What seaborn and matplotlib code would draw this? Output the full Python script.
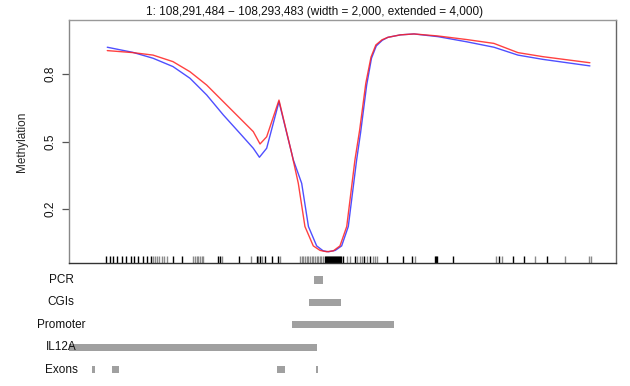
import matplotlib
matplotlib.use("Agg")
import matplotlib.pyplot as plt
import seaborn as sns
import pandas as pd

# ---------------- data (bp offsets from extended start 108,290,484) ----------------
red_pos = [2, 215, 381, 546, 687, 825, 963, 1101, 1211, 1267, 1322, 1424, 1529, 1584,
           1639, 1708, 1764, 1819, 1874, 1929, 1985, 2053, 2092, 2143, 2186, 2226, 2277,
           2326, 2430, 2542, 2741, 2980, 3204, 3403, 3610, 3999]
red_meth = [0.904, 0.895, 0.884, 0.855, 0.810, 0.751, 0.677, 0.603, 0.544, 0.489, 0.521,
            0.684, 0.448, 0.314, 0.122, 0.036, 0.016, 0.010, 0.014, 0.036, 0.122, 0.418,
            0.551, 0.759, 0.875, 0.929, 0.952, 0.963, 0.974, 0.978, 0.969, 0.953, 0.936,
            0.895, 0.877, 0.850]

blue_pos = [2, 215, 381, 546, 687, 825, 963, 1101, 1211, 1262, 1322, 1424, 1543, 1612,
            1668, 1736, 1790, 1835, 1890, 1943, 1998, 2067, 2100, 2150, 2190, 2230, 2280,
            2326, 2430, 2542, 2741, 2980, 3204, 3403, 3610, 3999]
blue_meth = [0.919, 0.896, 0.870, 0.833, 0.781, 0.707, 0.618, 0.536, 0.470, 0.430, 0.470,
             0.677, 0.418, 0.314, 0.122, 0.036, 0.014, 0.010, 0.016, 0.036, 0.122, 0.418,
             0.540, 0.750, 0.870, 0.925, 0.950, 0.963, 0.974, 0.978, 0.966, 0.943, 0.919,
             0.884, 0.865, 0.836]

rug_dark = [-8, 25, 50, 83, 124, 157, 199, 224, 257, 298, 331, 364, 546, 621, 919, 936,
            1093, 1242, 1267, 1308, 1366, 1416, 1805, 1813, 1822, 1830, 1838, 1846, 1855,
            1863, 1871, 1880, 1888, 1896, 1904, 1913, 1921, 1929, 1938, 1954, 2053, 2128,
            2178, 2318, 2451, 2525, 2716, 2724, 2732, 2865, 3246, 3362, 3453, 3643]
rug_light = [381, 397, 414, 431, 455, 472, 497, 712, 729, 745, 753, 770, 787, 795, 952,
             1192, 1250, 1283, 1432, 1598, 1615, 1627, 1639, 1656, 1668, 1681, 1697, 1706,
             1722, 1735, 1747, 1764, 1772, 1788, 1987, 2012, 2070, 2095, 2111, 2153, 2202,
             2219, 2236, 2550, 3221, 3271, 3544, 3792, 3991, 4008]

track_names = ["PCR", "CGIs", "Promoter", "IL12A", "Exons"]
track_starts = [[1714], [1675], [1529], [-323], [-122, 41, 1405, 1730]]
track_ends = [[1788], [1935], [2376], [1741], [-99, 97, 1474, 1745]]

y_ticks = [0.2, 0.5, 0.8]
title = "1: 108,291,484 \u2212 108,293,483 (width = 2,000, extended = 4,000)"

# ---------------- drawing ----------------
sns.set_theme(style="white")
plt.rcParams["font.family"] = ["Liberation Sans", "DejaVu Sans"]
FS = 8.5

fig = plt.figure(figsize=(6.30, 3.86), dpi=100)
W, H = 630, 386
ax = fig.add_axes([69 / W, 1 - 263 / H, (616 - 69) / W, (263 - 20) / H])

df_r = pd.DataFrame({"pos": red_pos, "meth": red_meth})
df_b = pd.DataFrame({"pos": blue_pos, "meth": blue_meth})
sns.lineplot(data=df_b, x="pos", y="meth", ax=ax, color="#3030ff", lw=1.0, alpha=0.85,
             sort=False, estimator=None)
sns.lineplot(data=df_r, x="pos", y="meth", ax=ax, color="#ff2020", lw=1.0, alpha=0.85,
             sort=False, estimator=None)

sns.rugplot(x=rug_light, ax=ax, height=0.029, color="#8a8a8a", lw=0.9, clip_on=False)
sns.rugplot(x=rug_dark, ax=ax, height=0.029, color="#000000", lw=0.9, clip_on=False)

xlim = (-315, 4215)
ax.set_xlim(*xlim)
ax.set_ylim(-0.04, 1.04)
ax.set_yticks(y_ticks)
ax.set_yticklabels([f"{v:.1f}" for v in y_ticks], rotation=90, va="center", fontsize=FS)
ax.set_xticks([])
ax.set_xlabel("")
ax.set_ylabel("Methylation", fontsize=FS, labelpad=12)
ax.tick_params(axis="y", which="both", left=True, length=5, width=0.9, color="#555555",
               pad=4, labelcolor="#111111")
for side, col in [("left", "#888888"), ("top", "#999999"), ("right", "#666666"),
                  ("bottom", "#333333")]:
    ax.spines[side].set_visible(True)
    ax.spines[side].set_color(col)
    ax.spines[side].set_linewidth(1.0)

fig.text(0.5, 1 - 12 / H, title, ha="center", va="center", fontsize=FS, color="#111111")

# annotation tracks (figure pixels 266..386 from top)
tax = fig.add_axes([69 / W, 0, (616 - 69) / W, (386 - 266) / H])
tax.set_xlim(*xlim)
row_px = 22.4
top_row = (266 - 280) / row_px
bot_row = (386 - 280) / row_px
tax.set_ylim(bot_row, top_row)
tax.axis("off")
bar_h = 7.2 / row_px
for i, name in enumerate(track_names):
    for s, e in zip(track_starts[i], track_ends[i]):
        tax.barh(i, e - s, left=s, height=bar_h, color="#a0a0a0", edgecolor="none")
    tax.text(-381, i, name, ha="center", va="center", fontsize=FS, color="#111111",
             clip_on=False, zorder=5)

fig.savefig("out.png", dpi=100)
